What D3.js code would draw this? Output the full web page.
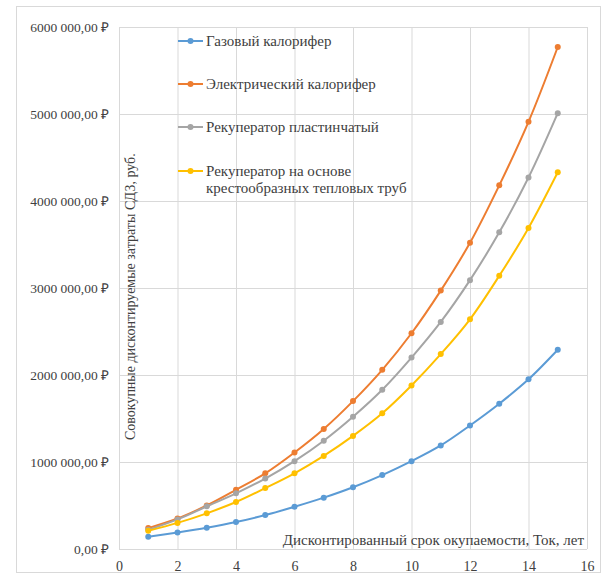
<!DOCTYPE html>
<html>
<head>
<meta charset="utf-8">
<script src="https://cdn.jsdelivr.net/npm/d3@7"></script>
<style>
  body { margin: 0; background: #fff; }
</style>
</head>
<body>
<svg id="chart" width="609" height="578"></svg>
<script>
// values, millions of rubles
const years = [1, 2, 3, 4, 5, 6, 7, 8, 9, 10, 11, 12, 13, 14, 15];
const gasHeater = [0.14, 0.19, 0.245, 0.31, 0.39, 0.485, 0.59, 0.71, 0.85, 1.01, 1.19, 1.42, 1.67, 1.95, 2.29];
const electricHeater = [0.24, 0.35, 0.50, 0.68, 0.87, 1.11, 1.38, 1.70, 2.06, 2.48, 2.97, 3.52, 4.18, 4.91, 5.77];
const plateRecuperator = [0.22, 0.34, 0.49, 0.64, 0.81, 1.01, 1.245, 1.52, 1.83, 2.20, 2.61, 3.09, 3.64, 4.27, 5.01];
const pipeRecuperator = [0.21, 0.30, 0.41, 0.54, 0.70, 0.87, 1.07, 1.30, 1.56, 1.88, 2.24, 2.64, 3.14, 3.69, 4.33];
const seriesNames = [
  ["Газовый калорифер"],
  ["Электрический калорифер"],
  ["Рекуператор пластинчатый"],
  ["Рекуператор на основе", "крестообразных тепловых труб"]
];
const xTicks = [0, 2, 4, 6, 8, 10, 12, 14, 16];
const yTicks = [0, 1, 2, 3, 4, 5, 6];
const colors = ["#5B9BD5", "#ED7D31", "#A5A5A5", "#FFC000"];

const series = [gasHeater, electricHeater, plateRecuperator, pipeRecuperator];

const FONT = "Liberation Serif, serif";
const svg = d3.select("#chart")
  .attr("font-family", FONT);
const margin = { left: 119, right: 22, top: 27, bottom: 29 };
const W = 609, H = 578;

// outer chart frame
svg.append("rect")
  .attr("x", 16.5).attr("y", 6.5)
  .attr("width", 584).attr("height", 566)
  .attr("fill", "#fff")
  .attr("stroke", "#d9d9d9");

const x = d3.scaleLinear().domain([0, 16]).range([margin.left, W - margin.right]);
const y = d3.scaleLinear().domain([0, 6]).range([H - margin.bottom, margin.top]);

// gridlines
svg.append("g").selectAll("line").data(xTicks).join("line")
  .attr("x1", d => x(d) + 0.5).attr("x2", d => x(d) + 0.5)
  .attr("y1", y(6)).attr("y2", y(0))
  .attr("stroke", "#d9d9d9");
svg.append("g").selectAll("line").data(yTicks).join("line")
  .attr("x1", x(0)).attr("x2", x(16))
  .attr("y1", d => y(d) + 0.5).attr("y2", d => y(d) + 0.5)
  .attr("stroke", "#d9d9d9");

// axes
const fmtRub = v => {
  const s = v === 0 ? "0,00" : (v * 1000) + " 000,00";
  return s + " ₽";
};
const yAxis = svg.append("g")
  .attr("transform", `translate(${x(0) - 7},0)`)
  .call(d3.axisLeft(y).tickValues(yTicks).tickFormat(fmtRub).tickSize(0));
yAxis.attr("font-family", FONT);
yAxis.select(".domain").remove();
yAxis.selectAll("text").attr("font-size", 13.5).attr("fill", "#404040");

const xAxis = svg.append("g")
  .attr("transform", `translate(0,${y(0) + 9})`)
  .call(d3.axisBottom(x).tickValues(xTicks).tickSize(0));
xAxis.attr("font-family", FONT);
xAxis.select(".domain").remove();
xAxis.selectAll("text").attr("font-size", 14).attr("fill", "#404040");

// axis titles inside the plot
svg.append("text")
  .attr("transform", `translate(${x(0) + 16},${y(2.9)}) rotate(-90)`)
  .attr("text-anchor", "middle")
  .attr("font-size", 14)
  .attr("fill", "#404040")
  .text("Совокупные дисконтируемые затраты СДЗ, руб.");
svg.append("text")
  .attr("x", x(16) - 3).attr("y", y(0) - 4)
  .attr("text-anchor", "end")
  .attr("font-size", 15)
  .attr("fill", "#404040")
  .text("Дисконтированный срок окупаемости, Ток, лет");

// lines + markers
const line = d3.line()
  .x((d, i) => x(years[i]))
  .y(d => y(d))
  .curve(d3.curveCatmullRom);

series.forEach((vals, k) => {
  const g = svg.append("g");
  g.append("path")
    .datum(vals)
    .attr("fill", "none")
    .attr("stroke", colors[k])
    .attr("stroke-width", 2)
    .attr("d", line);
  g.selectAll("circle").data(vals).join("circle")
    .attr("cx", (d, i) => x(years[i]))
    .attr("cy", d => y(d))
    .attr("r", 3)
    .attr("fill", colors[k]);
});

// legend
const legendY = [41, 84, 127, 171];
const legend = svg.append("g");
seriesNames.forEach((lines, k) => {
  const g = legend.append("g").attr("transform", `translate(178,${legendY[k]})`);
  g.append("line").attr("x1", 0).attr("x2", 25).attr("stroke", colors[k]).attr("stroke-width", 2);
  g.append("circle").attr("cx", 12.5).attr("r", 3).attr("fill", colors[k]);
  lines.forEach((t, j) => {
    g.append("text")
      .attr("x", 28).attr("y", 5 + j * 17)
      .attr("font-size", 15)
      .attr("fill", "#404040")
      .text(t);
  });
});
</script>
</body>
</html>
